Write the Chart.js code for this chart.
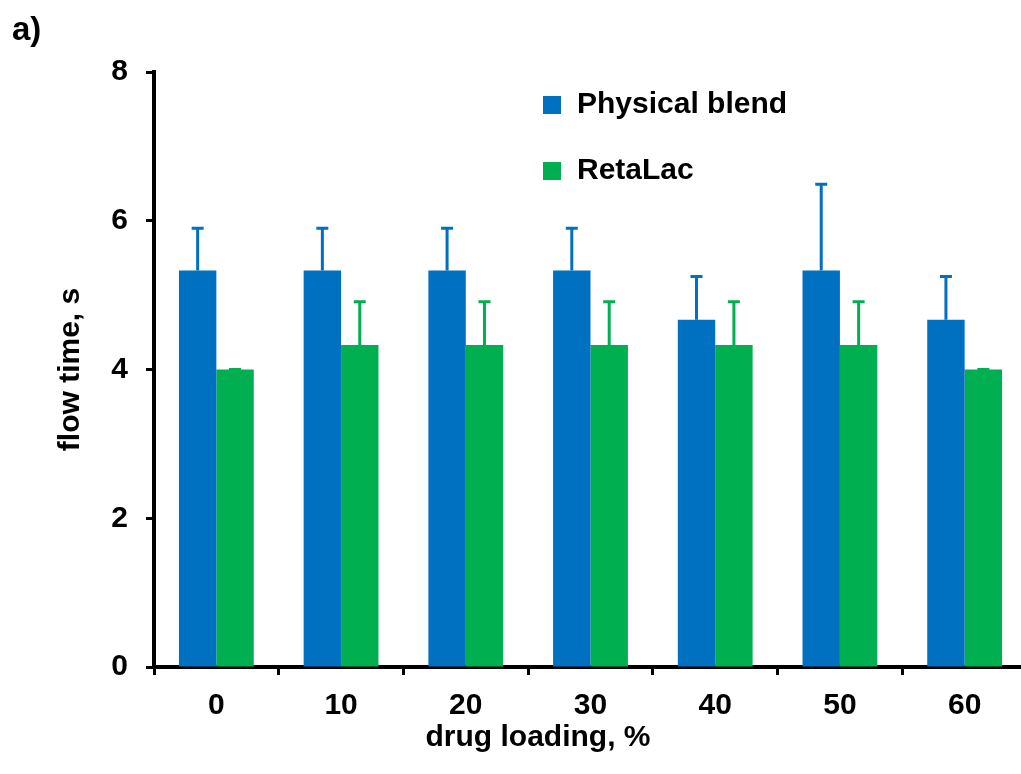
<!DOCTYPE html>
<html>
<head>
<meta charset="utf-8">
<script src="https://cdn.jsdelivr.net/npm/chart.js@4"></script>
<style>
  html, body { margin: 0; padding: 0; background: #fff; overflow: hidden; }
  #wrap { width: 1030px; height: 774px; }
</style>
</head>
<body>
<div id="wrap"><canvas id="myChart" width="1030" height="774"></canvas></div>
<script>
// drug loading categories, %
const categories = ['0', '10', '20', '30', '40', '50', '60'];
// flow time, s
const physicalBlend = [5.33, 5.33, 5.33, 5.33, 4.67, 5.33, 4.67];
const physicalBlendErr = [0.57, 0.57, 0.57, 0.57, 0.58, 1.16, 0.58];
const retaLac = [4.0, 4.33, 4.33, 4.33, 4.33, 4.33, 4.0];
const retaLacErr = [0, 0.58, 0.58, 0.58, 0.58, 0.58, 0];
const yTicks = [0, 2, 4, 6, 8];

const FONT = "'Liberation Sans', Arial, sans-serif";
const BLUE = '#0070C0';
const GREEN = '#00B050';

// error bars, upper half only
const errorBars = {
    id: 'errorBars',
    afterDatasetsDraw(chart) {
        const ctx = chart.ctx;
        const y = chart.scales.y;
        chart.data.datasets.forEach((ds, i) => {
            const meta = chart.getDatasetMeta(i);
            meta.data.forEach((bar, j) => {
                const top = y.getPixelForValue(ds.data[j] + ds.errors[j]);
                ctx.save();
                ctx.strokeStyle = ds.backgroundColor;
                ctx.lineWidth = 3;
                ctx.beginPath();
                ctx.moveTo(bar.x, bar.y);
                ctx.lineTo(bar.x, top);
                ctx.moveTo(bar.x - 6, top);
                ctx.lineTo(bar.x + 6, top);
                ctx.stroke();
                ctx.restore();
            });
        });
    }
};

// axis titles, panel letter and legend drawn by hand
const extras = {
    id: 'extras',
    afterDraw(chart) {
        const ctx = chart.ctx;
        const area = chart.chartArea;
        ctx.save();
        ctx.fillStyle = '#000';
        ctx.textBaseline = 'middle';

        ctx.textAlign = 'left';
        ctx.font = 'bold 33px ' + FONT;
        ctx.fillText('a)', 12, 31);

        ctx.font = 'bold 30px ' + FONT;
        ctx.textAlign = 'center';
        ctx.fillText('drug loading, %', 538, 738);

        ctx.save();
        ctx.translate(71, (area.top + area.bottom) / 2);
        ctx.rotate(-Math.PI / 2);
        ctx.fillText('flow time, s', 0, 0);
        ctx.restore();

        ctx.textAlign = 'left';
        chart.data.datasets.forEach((ds, i) => {
            const cy = 105 + i * 66;
            ctx.fillStyle = ds.backgroundColor;
            ctx.fillRect(543, cy - 9, 18, 18);
            ctx.fillStyle = '#000';
            ctx.fillText(ds.label, 577, cy);
        });
        ctx.restore();
    }
};

const data = {
    labels: categories,
    datasets: [
        {
            label: 'Physical blend',
            data: physicalBlend,
            errors: physicalBlendErr,
            backgroundColor: BLUE,
        },
        {
            label: 'RetaLac',
            data: retaLac,
            errors: retaLacErr,
            backgroundColor: GREEN,
        }
    ]
};

const config = {
    type: 'bar',
    data: data,
    options: {
        responsive: false,
        animation: false,
        devicePixelRatio: 1,
        categoryPercentage: 0.6,
        barPercentage: 1.0,
        layout: {
            padding: { top: 72, right: 3, left: 0, bottom: 0 }
        },
        plugins: {
            legend: { display: false },
            tooltip: { enabled: false },
            title: { display: false }
        },
        scales: {
            x: {
                afterFit: function (scale) { scale.height = 107; },
                grid: {
                    drawOnChartArea: false,
                    tickLength: 8,
                    tickWidth: 3,
                    tickColor: '#000',
                },
                border: { color: '#000', width: 4 },
                ticks: {
                    color: '#000',
                    padding: 13,
                    font: { family: FONT, size: 30, weight: 'bold' }
                }
            },
            y: {
                min: 0,
                max: 8,
                afterFit: function (scale) { scale.width = 154; },
                afterBuildTicks: function (scale) {
                    scale.ticks = yTicks.map(v => ({ value: v }));
                },
                grid: {
                    drawOnChartArea: false,
                    tickLength: 8,
                    tickWidth: 3,
                    tickColor: '#000',
                },
                border: { color: '#000', width: 4 },
                ticks: {
                    color: '#000',
                    padding: 18,
                    font: { family: FONT, size: 30, weight: 'bold' }
                }
            }
        }
    },
    plugins: [errorBars, extras]
};

window.myChart = new Chart(document.getElementById('myChart'), config);
</script>
</body>
</html>
